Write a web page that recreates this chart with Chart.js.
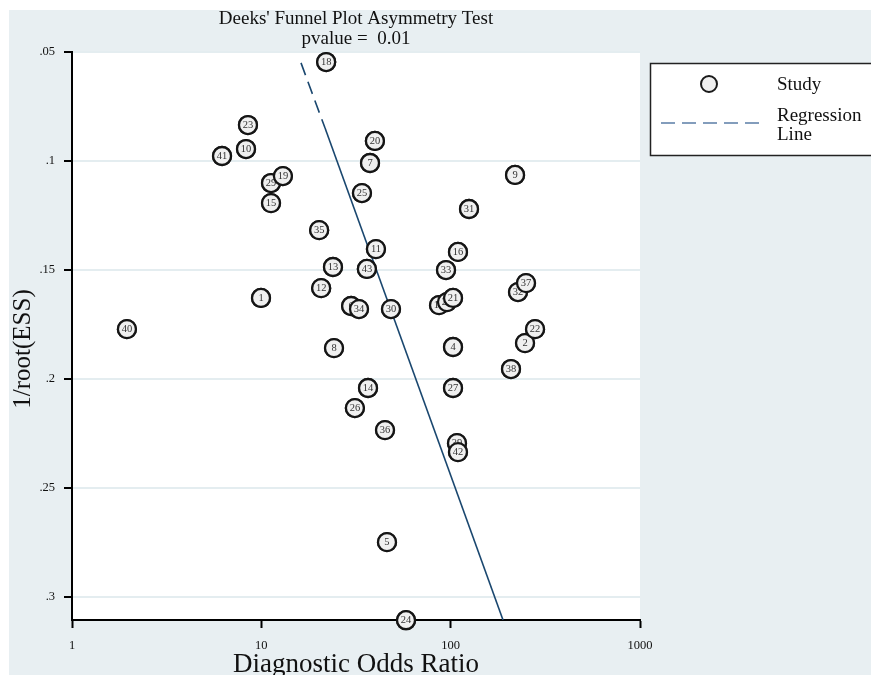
<!DOCTYPE html>
<html>
<head>
<meta charset="utf-8">
<title>Deeks' Funnel Plot Asymmetry Test</title>
<script src="https://cdn.jsdelivr.net/npm/chart.js@4.4.1/dist/chart.umd.min.js"></script>
<style>
  html, body { margin: 0; padding: 0; background: #fff; overflow: hidden; }
  canvas { display: block; }
</style>
</head>
<body>
<canvas id="funnel" width="871" height="675"></canvas>
<script>
// Study identifiers, in drawing order (later studies sit on top of earlier ones)
const studyIds = [40, 41, 23, 10, 29, 19, 15, 1, 18, 35, 12, 13, 8, 6, 34, 26, 25, 43, 14, 7, 20, 11, 36, 5, 30, 24,
                  33, 17, 28, 21, 4, 27, 16, 39, 42, 31, 38, 9, 32, 37, 2, 22];
// Diagnostic odds ratio of each study
const diagnosticOR = [1.95, 6.2, 8.5, 8.3, 11.25, 13.0, 11.25, 9.96, 22.0, 20.2, 20.7, 23.9, 24.2, 29.8, 32.8, 31.2, 34.0, 36.1, 36.6, 37.5, 39.8, 40.3, 45.0, 46.1, 48.4, 58.1,
                      94.5, 86.8, 95.6, 102.9, 102.9, 102.9, 109.3, 108, 109.3, 125, 208.3, 218.8, 226.8, 250, 247, 279];
// 1/root(effective sample size) of each study
const invRootESS = [0.1771, 0.0977, 0.0835, 0.0945, 0.1101, 0.1069, 0.1193, 0.1628, 0.0546, 0.1317, 0.1583, 0.1486, 0.1858, 0.1665, 0.1679, 0.2133, 0.1147, 0.1495, 0.2041, 0.1009, 0.0908, 0.1404, 0.2234, 0.2748, 0.1679, 0.3106,
                    0.1500, 0.1661, 0.1647, 0.1628, 0.1853, 0.2041, 0.1417, 0.2294, 0.2335, 0.1220, 0.1954, 0.1064, 0.1601, 0.1560, 0.1835, 0.1771];

// Regression line: start, end of the dashed run, end
const regressionOR = [16.2, 21.7, 189];
const regressionY = [0.055, 0.0849, 0.3105];

const xTicks = [1, 10, 100, 1000];
const xTickLabels = ['1', '10', '100', '1000'];
const yTicks = [0.05, 0.1, 0.15, 0.2, 0.25, 0.3];
const yTickLabels = ['.05', '.1', '.15', '.2', '.25', '.3'];

const SERIF = "'Liberation Serif', 'Times New Roman', serif";
const LINE_BLUE = '#1a476f';

const studyPoints = studyIds.map((id, i) => ({ x: diagnosticOR[i], y: invRootESS[i] }));
const regPt = i => ({ x: regressionOR[i], y: regressionY[i] });

// Page and plot-region backgrounds
const backdrop = {
  id: 'backdrop',
  beforeDraw(chart) {
    const { ctx, width, height, chartArea: a } = chart;
    ctx.save();
    ctx.fillStyle = '#ffffff';
    ctx.fillRect(0, 0, width, height);
    ctx.fillStyle = '#e8eff2';
    ctx.fillRect(9, 10, width - 9, height - 10);
    ctx.fillStyle = '#ffffff';
    ctx.fillRect(a.left, a.top, a.right - a.left, a.bottom - a.top);
    ctx.restore();
  }
};

// Vertical axis caption, set a little below the plot's midline
const yCaption = {
  id: 'yCaption',
  afterDraw(chart) {
    const ctx = chart.ctx;
    ctx.save();
    ctx.translate(23, 349);
    ctx.rotate(-Math.PI / 2);
    ctx.font = '25px ' + SERIF;
    ctx.fillStyle = '#111';
    ctx.textAlign = 'center';
    ctx.textBaseline = 'middle';
    ctx.fillText('1/root(ESS)', 0, 0);
    ctx.restore();
  }
};

// Numbered study markers: each marker is redrawn with its number so that
// overlapping markers hide the numbers of the ones beneath them
const studyNumbers = {
  id: 'studyNumbers',
  afterDatasetsDraw(chart) {
    const meta = chart.getDatasetMeta(0);
    const ctx = chart.ctx;
    ctx.save();
    meta.data.forEach((pt, i) => {
      pt.draw(ctx);
      ctx.font = '10.5px ' + SERIF;
      ctx.fillStyle = '#333';
      ctx.textAlign = 'center';
      ctx.textBaseline = 'middle';
      ctx.fillText(String(studyIds[i]), pt.x, pt.y + 0.5);
    });
    ctx.restore();
  }
};

// Boxed key at the right
const keyBox = {
  id: 'keyBox',
  afterDraw(chart) {
    const ctx = chart.ctx;
    ctx.save();
    ctx.fillStyle = '#ffffff';
    ctx.fillRect(650, 63, 240, 93);
    ctx.strokeStyle = '#222';
    ctx.lineWidth = 1.5;
    ctx.strokeRect(650.5, 63.5, 240, 92);

    ctx.beginPath();
    ctx.arc(709, 84, 8, 0, Math.PI * 2);
    ctx.fillStyle = '#f0f0f0';
    ctx.fill();
    ctx.lineWidth = 2;
    ctx.strokeStyle = '#1a1a1a';
    ctx.stroke();

    ctx.beginPath();
    ctx.setLineDash([14, 7]);
    ctx.moveTo(661, 123);
    ctx.lineTo(760, 123);
    ctx.strokeStyle = '#5b7ea6';
    ctx.lineWidth = 1.5;
    ctx.stroke();
    ctx.setLineDash([]);

    ctx.font = '19px ' + SERIF;
    ctx.fillStyle = '#111';
    ctx.textAlign = 'left';
    ctx.textBaseline = 'middle';
    ctx.fillText('Study', 777, 85);
    ctx.fillText('Regression', 777, 116);
    ctx.fillText('Line', 777, 135);
    ctx.restore();
  }
};

new Chart(document.getElementById('funnel'), {
  type: 'scatter',
  data: {
    datasets: [
      {
        label: 'Study',
        data: studyPoints,
        pointStyle: 'circle',
        pointRadius: 9,
        pointBorderWidth: 2.3,
        pointBorderColor: '#151515',
        pointBackgroundColor: '#f0f0f0',
        clip: false
      },
      {
        label: 'Regression Line',
        data: [regPt(0), regPt(1)],
        showLine: true,
        pointRadius: 0,
        borderColor: LINE_BLUE,
        borderWidth: 1.6,
        borderDash: [13, 7]
      },
      {
        label: 'Regression Line (cont.)',
        data: [regPt(1), regPt(2)],
        showLine: true,
        pointRadius: 0,
        borderColor: LINE_BLUE,
        borderWidth: 1.6
      }
    ]
  },
  options: {
    responsive: false,
    animation: false,
    devicePixelRatio: 1,
    layout: { padding: { left: 0, right: 231, top: 0, bottom: 0 } },
    plugins: {
      legend: { display: false },
      tooltip: { enabled: false },
      title: {
        display: true,
        fullSize: false,
        text: ["Deeks' Funnel Plot Asymmetry Test", 'pvalue =  0.01'],
        color: '#111',
        font: { family: SERIF, size: 19, weight: 'normal', lineHeight: 1.0526 },
        padding: { top: 9, bottom: 3 }
      }
    },
    scales: {
      x: {
        type: 'logarithmic',
        min: 1,
        max: 1000,
        afterBuildTicks: s => { s.ticks = xTicks.map(v => ({ value: v })); },
        afterFit: s => { s.height = 55; },
        ticks: {
          callback: (v, i) => xTickLabels[i],
          color: '#111',
          font: { family: SERIF, size: 12.5 },
          padding: 10,
          maxRotation: 0,
          autoSkip: false
        },
        grid: { drawOnChartArea: false, tickLength: 8, tickColor: '#000', tickWidth: 2 },
        border: { color: '#000', width: 2 },
        title: {
          display: true,
          text: 'Diagnostic Odds Ratio',
          color: '#111',
          font: { family: SERIF, size: 27, lineHeight: 0.72 },
          padding: 0
        }
      },
      y: {
        type: 'linear',
        reverse: true,
        min: 0.05,
        max: 0.3105,
        afterBuildTicks: s => { s.ticks = yTicks.map(v => ({ value: v })); },
        afterFit: s => { s.width = 72; },
        ticks: {
          callback: (v, i) => yTickLabels[i],
          color: '#111',
          font: { family: SERIF, size: 12.5 },
          padding: 9
        },
        grid: { color: '#e4edf0', lineWidth: 2, tickLength: 8, tickColor: '#000', tickWidth: 2 },
        border: { color: '#000', width: 2 },
        title: { display: false }
      }
    }
  },
  plugins: [backdrop, studyNumbers, keyBox, yCaption]
});
</script>
</body>
</html>
